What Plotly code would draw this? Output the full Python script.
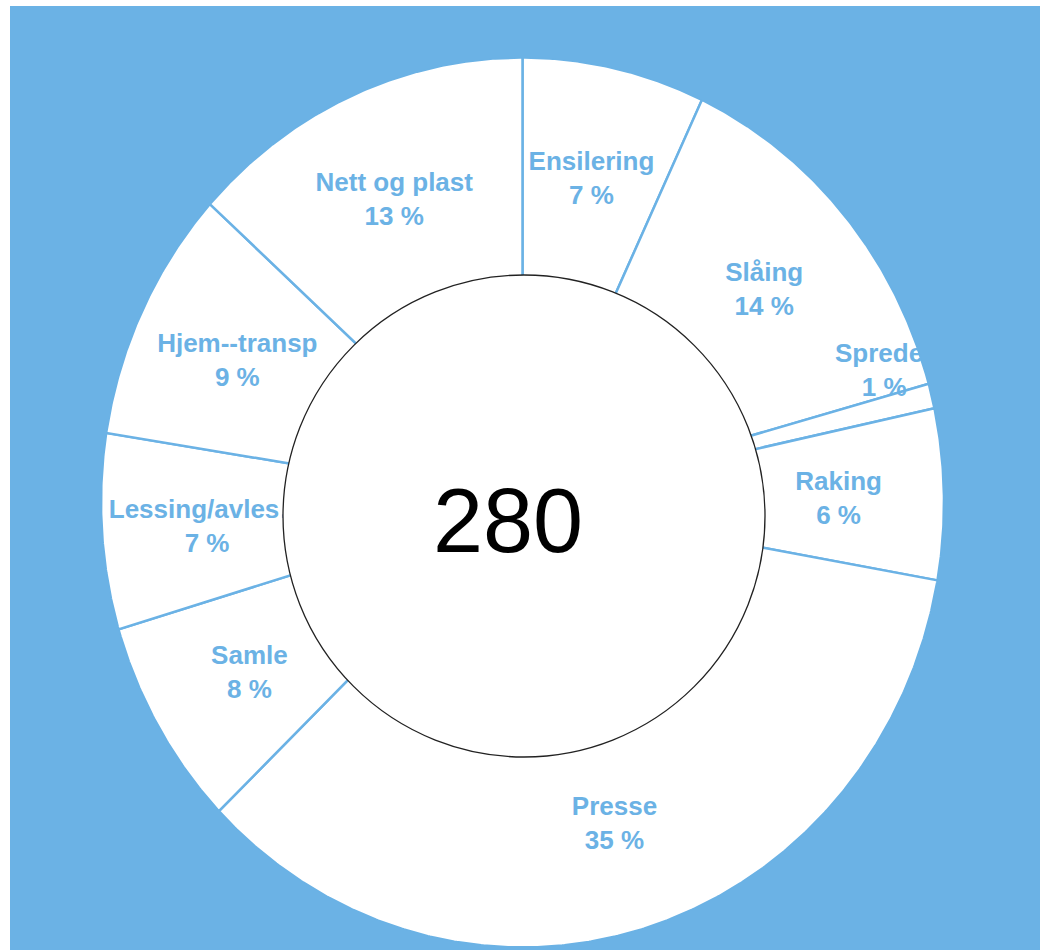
import numpy as np
import plotly.graph_objects as go

# Shares of the total per work step, clockwise from 12 o'clock
labels = ["Ensilering", "Slåing", "Spreder", "Raking", "Presse",
          "Samle", "Lessing/avles…", "Hjem--transp", "Nett og plast"]
shares = [7.0, 13.7, 0.9, 6.2, 35.0, 7.6, 7.1, 9.2, 13.3]
center_value = 280

# Canvas / geometry (pixel-like axis units)
W, H = 1040, 950
BLUE = "#6BB2E5"
CX, CY = 522.5, 502.5      # ring centre
RX, RY = 421.5, 445.0      # ring radii (horizontal, vertical)
HOLE_CX, HOLE_CY, HOLE_R = 524, 516, 241
LABEL_R = 0.75
LABEL_DY = 4               # baseline tweak for the two-line labels
# tiny slices get their label pushed outward (radius, angle in degrees)
label_override = {"Spreder": (0.909, 70.7)}
FONT = "Liberation Sans, Arial, sans-serif"


def ring_point(r, deg):
    t = np.radians(deg)
    return CX + RX * r * np.sin(t), CY - RY * r * np.cos(t)


total = sum(shares)
bounds = np.concatenate([[0], np.cumsum(shares)]) / total * 360.0

fig = go.Figure()

# slices
for i, name in enumerate(labels):
    a0, a1 = bounds[i], bounds[i + 1]
    n = max(int((a1 - a0) * 3), 4)
    ang = np.linspace(a0, a1, n)
    xs, ys = ring_point(1.0, ang)
    xs = np.concatenate([[CX], xs, [CX]])
    ys = np.concatenate([[CY], ys, [CY]])
    fig.add_trace(go.Scatter(
        x=xs, y=ys, mode="lines", fill="toself",
        fillcolor="white", line=dict(color=BLUE, width=2.5),
        hoverinfo="skip", showlegend=False))

# slice labels
lx, ly, lt = [], [], []
for i, name in enumerate(labels):
    mid = (bounds[i] + bounds[i + 1]) / 2
    r, a = label_override.get(name.rstrip("…"), (LABEL_R, mid))
    x, y = ring_point(r, a)
    pct = round(shares[i] / total * 100)
    lx.append(x)
    ly.append(y + LABEL_DY)
    lt.append(f"<b>{name}</b><br><b>{pct} %</b>")

fig.add_trace(go.Scatter(
    x=lx, y=ly, mode="text", text=lt, textposition="middle center",
    textfont=dict(family=FONT, size=26, color=BLUE),
    hoverinfo="skip", showlegend=False))

# blue frame around the ring (rectangle with elliptical hole)
ell = np.linspace(0, 360, 361)
ex, ey = ring_point(1.0, ell)
path = f"M 10,6 L {W},6 L {W},{H} L 10,{H} Z M "
path += " L ".join(f"{x:.2f},{y:.2f}" for x, y in zip(ex, ey)) + " Z"

shapes = [
    dict(type="path", path=path, xref="x", yref="y", fillcolor=BLUE,
         line=dict(width=0), layer="above", fillrule="evenodd"),
    dict(type="circle", xref="x", yref="y",
         x0=HOLE_CX - HOLE_R, x1=HOLE_CX + HOLE_R,
         y0=HOLE_CY - HOLE_R, y1=HOLE_CY + HOLE_R,
         fillcolor="white", line=dict(color="#222222", width=1.3),
         layer="above"),
]

fig.update_layout(
    width=W, height=H,
    margin=dict(l=0, r=0, t=0, b=0),
    paper_bgcolor="white", plot_bgcolor="white",
    xaxis=dict(range=[0, W], visible=False, fixedrange=True),
    yaxis=dict(range=[H, 0], visible=False, fixedrange=True),
    shapes=shapes,
    annotations=[dict(x=508, y=521, xref="x", yref="y",
                      text=str(center_value), showarrow=False,
                      font=dict(family=FONT, size=90, color="black"),
                      xanchor="center", yanchor="middle")],
)

fig.write_html("out.html")
